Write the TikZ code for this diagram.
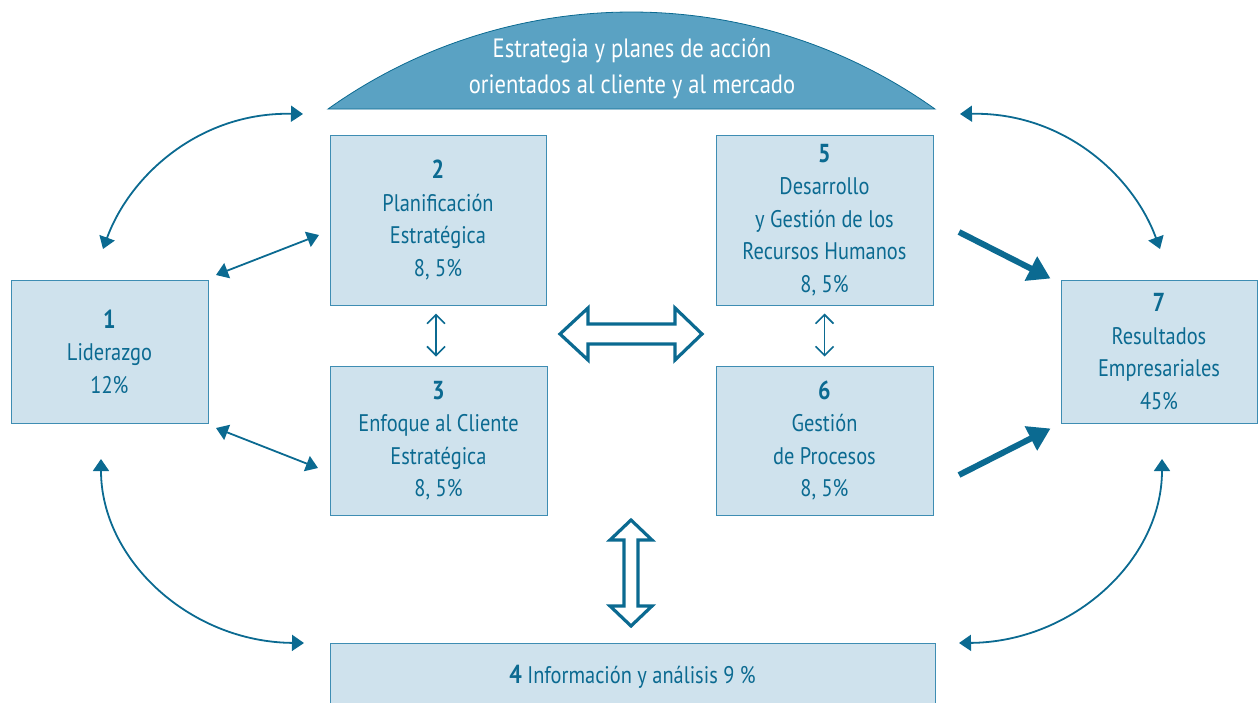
\documentclass[tikz,border=0pt]{standalone}
\usepackage{fontspec}
\setmainfont[FakeStretch=0.85]{PT Sans}
\usetikzlibrary{arrows.meta,calc}
\definecolor{dk}{HTML}{0B6A91}
\definecolor{bx}{HTML}{CFE2ED}
\definecolor{bxl}{HTML}{3E8DB3}
\definecolor{domec}{HTML}{5AA2C3}
\newcommand{\num}[1]{{\fontsize{26}{32.5}\selectfont\bfseries #1}}
\begin{document}
\begin{tikzpicture}[x=1pt,y=-1pt,
 box/.style={draw=bxl, line width=1pt, fill=bx, align=center, text=dk,
   font=\fontsize{24}{32.5}\selectfont, inner sep=0pt},
 thinarr/.style={draw=dk, line width=1.8pt,
   {Triangle[length=12pt,width=16pt]}-{Triangle[length=12pt,width=16pt]}},
 vsmall/.style={draw=dk, line width=1.6pt,
   {Straight Barb[length=9pt,width=18pt]}-{Straight Barb[length=9pt,width=18pt]}},
 thickarr/.style={draw=dk, line width=6pt, -{Triangle[length=22pt,width=26pt]}},
 hollow/.style={draw=dk, line width=3.2pt, fill=white, line join=miter}]
\path[use as bounding box] (0,0) rectangle (1258,702);
\clip (0,0) rectangle (1258,702);

% dome
\filldraw[fill=domec, draw=dk, line width=0.8pt]
  (328,109) arc[start angle=-125.45, end angle=-54.55, radius=523.3] -- cycle;
\node[align=center, text=white, font=\fontsize{26.5}{36}\selectfont] (dm) at (632,69)
  {Estrategia y planes de acción\\orientados al cliente y al mercado};

% boxes
\node[box, minimum width=197, minimum height=143] (b1) at (109.5,351.5)
  {\num{1}\\Liderazgo\\12\%};
\node[box, minimum width=216, minimum height=170] (b2) at (438,220)
  {\num{2}\\Planificación\\Estratégica\\8, 5\%};
\node[box, minimum width=217, minimum height=149] (b3) at (438.5,440.5)
  {\num{3}\\Enfoque al Cliente\\Estratégica\\8, 5\%};
\node[box, minimum width=217, minimum height=170] (b5) at (824.5,220)
  {\num{5}\\Desarrollo\\y Gestión de los\\Recursos Humanos\\8, 5\%};
\node[box, minimum width=217, minimum height=149] (b6) at (824.5,440.5)
  {\num{6}\\Gestión\\de Procesos\\8, 5\%};
\node[box, minimum width=196, minimum height=143] (b7) at (1159,351.5)
  {\num{7}\\Resultados\\Empresariales\\45\%};
\node[box, anchor=north, minimum width=605, minimum height=66] (b4) at (632.5,643)
  {\num{4} Información y análisis 9 \%};

% small vertical arrows
\draw[vsmall] ([xshift=-2pt,yshift=-8pt]b2.south) -- ([xshift=-2.5pt,yshift=9pt]b3.north);
\draw[vsmall] ([xshift=0pt,yshift=-8pt]b5.south) -- ([xshift=0pt,yshift=9pt]b6.north);

% coordinates of free ends
\coordinate (TLa) at (303,114);
\coordinate (TLb) at (103,249);
\coordinate (TRa) at (960,114);
\coordinate (TRb) at (1160,249);
\coordinate (BLa) at (101,459);
\coordinate (BLb) at (304,643);
\coordinate (BRa) at (1162,459);
\coordinate (BRb) at (959,643);

% curved arrows
\draw[thinarr] (TLb) .. controls (130,175) and (200,112) .. (TLa);
\draw[thinarr] (TRb) .. controls (1133,175) and (1063,112) .. (TRa);
\draw[thinarr] (BLa) .. controls (101,560) and (190,642) .. (BLb);
\draw[thinarr] (BRa) .. controls (1162,560) and (1073,642) .. (BRb);

% diagonal arrows from box 1
\coordinate (d1a) at (216,275);
\coordinate (d1b) at (319,235);
\coordinate (d2a) at (216,428);
\coordinate (d2b) at (318,468);
\draw[thinarr] (d1a) -- (d1b);
\draw[thinarr] (d2a) -- (d2b);

% thick arrows to box 7
\coordinate (k1) at (959,232);
\coordinate (k2) at (959,475);
\draw[thickarr] (k1) -- ($(b7.north west)+(-10,-1)$);
\draw[thickarr] (k2) -- ($(b7.south west)+(-10,5)$);

% hollow horizontal double arrow
\draw[hollow] (560,334) -- (588,308) -- (588,324) -- (675,324) -- (675,308)
  -- (702,334) -- (675,360) -- (675,344) -- (588,344) -- (588,360) -- cycle;
% hollow vertical double arrow
\draw[hollow] (631,520) -- (652,540) -- (638,540) -- (638,606) -- (652,606)
  -- (631,626) -- (610,606) -- (624,606) -- (624,540) -- (610,540) -- cycle;
\end{tikzpicture}
\end{document}
